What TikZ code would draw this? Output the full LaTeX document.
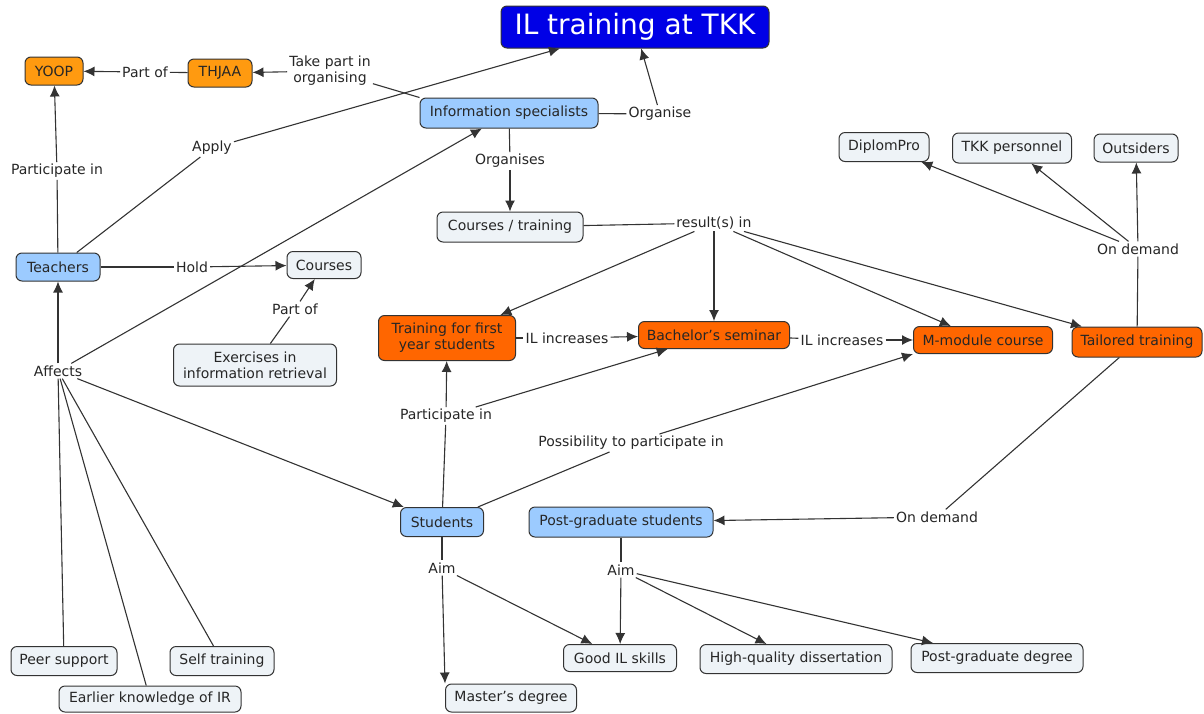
\documentclass[tikz,border=0pt]{standalone}
\usepackage{fontspec}
\setmainfont{DejaVu Sans}
\usetikzlibrary{arrows.meta}
\definecolor{cmline}{HTML}{333333}
\definecolor{cmtitle}{HTML}{0000E6}
\definecolor{cmlight}{HTML}{FF9A10}
\definecolor{cmred}{HTML}{FF6600}
\definecolor{cmblue}{HTML}{9CCBFF}
\definecolor{cmgrey}{HTML}{EEF3F7}
\tikzset{
  concept/.style={draw=cmline, line width=1pt, rounded corners=6pt,
    minimum height=28pt, inner sep=2pt, align=center, text=black!85,
    font=\fontsize{14}{16}\selectfont},
  greybox/.style={concept, fill=cmgrey},
  bluebox/.style={concept, fill=cmblue},
  redbox/.style={concept, fill=cmred},
  lightbox/.style={concept, fill=cmlight},
  link/.style={fill=white, inner sep=2pt, align=center, text=black!85,
    font=\fontsize{14}{16}\selectfont},
  conn/.style={draw=cmline, line width=1.1pt}
}
\begin{document}
\begin{tikzpicture}[x=1pt, y=-1pt, >={Latex[length=11pt,width=10pt]}]
    \useasboundingbox (0,0) rectangle (1204,713);
    % Concepts
    \node[concept, fill=cmtitle, text=white, minimum width=268, minimum height=42,
      font=\fontsize{28}{30}\selectfont] (title) at (635,27) {IL training at TKK};
    \node[lightbox, minimum width=58] (yoop) at (54,71) {YOOP};
    \node[lightbox, minimum width=64] (thjaa) at (220,73) {THJAA};
    \node[bluebox, minimum width=178, minimum height=30] (infospec) at (509,113) {Information specialists};
    \node[bluebox, minimum width=84] (teachers) at (58,267) {Teachers};
    \node[greybox, minimum width=74, minimum height=27] (courses) at (324,265) {Courses};
    \node[greybox, minimum width=163, minimum height=42] (exercises) at (255,365) {Exercises in\\information retrieval};
    \node[greybox, minimum width=146, minimum height=30] (coursetr) at (510,227) {Courses / training};
    \node[redbox, minimum width=137, minimum height=45] (firstyear) at (447,338) {Training for first\\year students};
    \node[redbox, minimum width=151, minimum height=27] (bachelor) at (714,335) {Bachelor's seminar};
    \node[redbox, minimum width=139, minimum height=27] (mmodule) at (983,340) {M-module course};
    \node[redbox, minimum width=130, minimum height=30] (tailored) at (1137,342) {Tailored training};
    \node[greybox, minimum width=90, minimum height=29] (diplompro) at (884,147) {DiplomPro};
    \node[greybox, minimum width=119, minimum height=30] (personnel) at (1012,148) {TKK personnel};
    \node[greybox, minimum width=84] (outsiders) at (1136,148) {Outsiders};
    \node[bluebox, minimum width=83, minimum height=29] (students) at (442,522) {Students};
    \node[bluebox, minimum width=184, minimum height=30] (pgstudents) at (621,522) {Post-graduate students};
    \node[greybox, minimum width=106, minimum height=29] (peer) at (64,661) {Peer support};
    \node[greybox, minimum width=182, minimum height=26] (earlier) at (150,699) {Earlier knowledge of IR};
    \node[greybox, minimum width=104, minimum height=29] (selftr) at (222,661) {Self training};
    \node[greybox, minimum width=131] (master) at (511,698) {Master's degree};
    \node[greybox, minimum width=113, minimum height=27] (goodil) at (620,658) {Good IL skills};
    \node[greybox, minimum width=192, minimum height=29] (highq) at (796,659) {High-quality dissertation};
    \node[greybox, minimum width=172, minimum height=29] (pgdegree) at (997,658) {Post-graduate degree};
    % Linking phrases
    \node[link] (partofA) at (145,72) {Part of};
    \node[link] (takepart) at (330,71) {Take part in\\organising};
    \node[link] (apply) at (212,148) {Apply};
    \node[link] (organise) at (660,114) {Organise};
    \node[link] (particA) at (57,171) {Participate in};
    \node[link] (hold) at (192,267) {Hold};
    \node[link] (partofB) at (295,309) {Part of};
    \node[link] (affects) at (58,371) {Affects};
    \node[link] (organises) at (510,161) {Organises};
    \node[link] (results) at (714,223) {result(s) in};
    \node[link] (ilincA) at (567,338) {IL increases};
    \node[link] (ilincB) at (842,340) {IL increases};
    \node[link] (ondemA) at (1138,249) {On demand};
    \node[link] (ondemB) at (937,517) {On demand};
    \node[link] (particB) at (446,416) {Participate in};
    \node[link] (possib) at (631,443) {Possibility to participate in};
    \node[link] (aimS) at (442,568) {Aim};
    \node[link] (aimP) at (621,570) {Aim};
    % Connectors
    \draw[conn] (thjaa) -- (partofA);
    \draw[conn,->] (partofA) -- (yoop);
    \draw[conn] (infospec.north west) -- (takepart);
    \draw[conn,->] (takepart) -- (thjaa);
    \draw[conn] (teachers) -- (apply);
    \draw[conn,->] (apply) -- (title);
    \draw[conn] (infospec) -- (organise);
    \draw[conn,->] (organise) -- (title);
    \draw[conn] (teachers) -- (particA);
    \draw[conn,->] (particA) -- (yoop);
    \draw[conn] (teachers) -- (hold);
    \draw[conn,->] (hold) -- (courses);
    \draw[conn] (exercises) -- (partofB);
    \draw[conn,->] (partofB) -- (courses);
    \foreach \s in {peer,earlier,selftr}
        \draw[conn] (\s) -- (affects);
    \foreach \t in {teachers,infospec,students}
        \draw[conn,->] (affects) -- (\t);
    \draw[conn] (infospec) -- (organises);
    \draw[conn,->] (organises) -- (coursetr);
    \draw[conn] (coursetr) -- (results);
    \foreach \t in {firstyear,bachelor,mmodule,tailored}
        \draw[conn,->] (results) -- (\t);
    \draw[conn] (firstyear) -- (ilincA);
    \draw[conn,->] (ilincA) -- (bachelor);
    \draw[conn] (bachelor) -- (ilincB);
    \draw[conn,->] (ilincB) -- (mmodule);
    \draw[conn] (tailored) -- (ondemA);
    \foreach \t in {diplompro,personnel,outsiders}
        \draw[conn,->] (ondemA) -- (\t);
    \draw[conn] (tailored) -- (ondemB);
    \draw[conn,->] (ondemB) -- (pgstudents);
    \draw[conn] (students) -- (particB);
    \draw[conn,->] (particB) -- (firstyear);
    \draw[conn,->] (particB) -- (bachelor);
    \draw[conn] (students) -- (possib);
    \draw[conn,->] (possib) -- (mmodule.south west);
    \draw[conn] (students) -- (aimS);
    \draw[conn,->] (aimS) -- (master.north west);
    \draw[conn,->] (aimS) -- (goodil);
    \draw[conn] (pgstudents) -- (aimP);
    \foreach \t in {goodil,highq,pgdegree}
        \draw[conn,->] (aimP) -- (\t);
\end{tikzpicture}
\end{document}
